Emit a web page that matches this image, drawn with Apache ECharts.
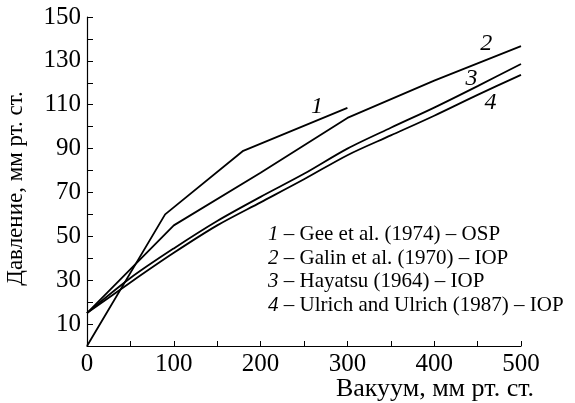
<!DOCTYPE html>
<html>
<head>
<meta charset="utf-8">
<script src="https://cdn.jsdelivr.net/npm/echarts@6/dist/echarts.min.js"></script>
<style>
    html, body { margin: 0; padding: 0; background: #fff; }
    #chart { width: 575px; height: 403px; }
</style>
</head>
<body>
<div id="chart"></div>
<script>
// curve numbers and legend texts
const curveNums = ['1', '2', '3', '4'];
const curveNames = [
    'Gee et al. (1974) – OSP',
    'Galin et al. (1970) – IOP',
    'Hayatsu (1964) – IOP',
    'Ulrich and Ulrich (1987) – IOP'
];

// [vacuum, pressure]
const gee = [[0, 0], [90, 60], [180, 89], [300, 108.6]];
const galin = [[0, 15], [100, 55], [200, 79], [300, 104], [400, 121], [500, 136.7]];
const hayatsu = [[0, 15], [50, 31], [100, 44.5], [150, 57], [200, 68], [250, 78.5], [300, 90], [350, 99.5], [400, 108.7], [450, 118.5], [500, 128.6]];
const ulrich = [[0, 15], [50, 29], [100, 42.5], [150, 55], [200, 65.5], [250, 76], [300, 87], [350, 96], [400, 105], [450, 114.5], [500, 123.6]];

// where the italic curve numbers sit (data units)
const numPos = [[265, 109], [460, 138], [443, 122], [465, 111]];

const xTicks = [0, 100, 200, 300, 400, 500];
const yTicks = [10, 30, 50, 70, 90, 110, 130, 150];

const font = "'Liberation Serif', 'Times New Roman', serif";
const chart = echarts.init(document.getElementById('chart'));

const curves = [gee, galin, hayatsu, ulrich];
const smoothFlags = [false, false, 0.3, 0.3];

const series = curves.map((data, i) => ({
    name: curveNames[i],
    type: 'line',
    data: data,
    smooth: smoothFlags[i],
    symbol: 'none',
    lineStyle: { color: '#000', width: 1.8 },
    itemStyle: { color: '#000' },
    markPoint: {
        symbol: 'circle',
        symbolSize: 0,
        silent: true,
        data: [{
            coord: numPos[i],
            label: {
                show: true,
                formatter: curveNums[i],
                color: '#000',
                fontFamily: font,
                fontStyle: 'italic',
                fontSize: 24
            }
        }]
    }
}));

const option = {
    animation: false,
    grid: { left: 87, right: 54, top: 17, bottom: 57, containLabel: false, outerBoundsMode: 'none' },
    legend: {
        orient: 'vertical',
        left: 258,
        top: 219,
        itemWidth: 0,
        itemHeight: 0,
        itemGap: 2.5,
        icon: 'rect',
        selectedMode: false,
        data: curveNames,
        formatter: function (name) {
            const i = curveNames.indexOf(name);
            return '{n|' + curveNums[i] + '} – ' + name;
        },
        textStyle: {
            color: '#000',
            fontFamily: font,
            fontSize: 21,
            rich: {
                n: { fontFamily: font, fontStyle: 'italic', fontSize: 21, color: '#000' }
            }
        }
    },
    xAxis: {
        type: 'value',
        min: 0,
        max: 500,
        interval: 50,
        name: 'Вакуум, мм рт. ст.',
        nameLocation: 'middle',
        nameGap: 30,
        nameMoveOverlap: false,
        nameTextStyle: {
            color: '#000',
            fontFamily: font,
            fontSize: 26,
            padding: [0, 0, 0, 262]
        },
        axisLine: { show: true, lineStyle: { color: '#000', width: 1.2 } },
        axisTick: { show: true, inside: true, length: 5, lineStyle: { color: '#000' } },
        splitLine: { show: false },
        axisLabel: {
            color: '#000',
            fontFamily: font,
            fontSize: 25,
            margin: 6,
            formatter: v => xTicks.includes(v) ? String(v) : ''
        }
    },
    yAxis: {
        type: 'value',
        min: 0,
        max: 150,
        interval: 10,
        name: 'Давление, мм рт. ст.',
        nameLocation: 'middle',
        nameGap: 60,
        nameMoveOverlap: false,
        nameTextStyle: { color: '#000', fontFamily: font, fontSize: 23, padding: [0, 14, 0, 0] },
        axisLine: { show: true, lineStyle: { color: '#000', width: 1.2 } },
        axisTick: { show: true, inside: true, length: 6, lineStyle: { color: '#000' } },
        splitLine: { show: false },
        axisLabel: {
            color: '#000',
            fontFamily: font,
            fontSize: 25,
            margin: 6,
            formatter: v => yTicks.includes(v) ? String(v) : ''
        }
    },
    series: series
};

chart.setOption(option);
</script>
</body>
</html>
